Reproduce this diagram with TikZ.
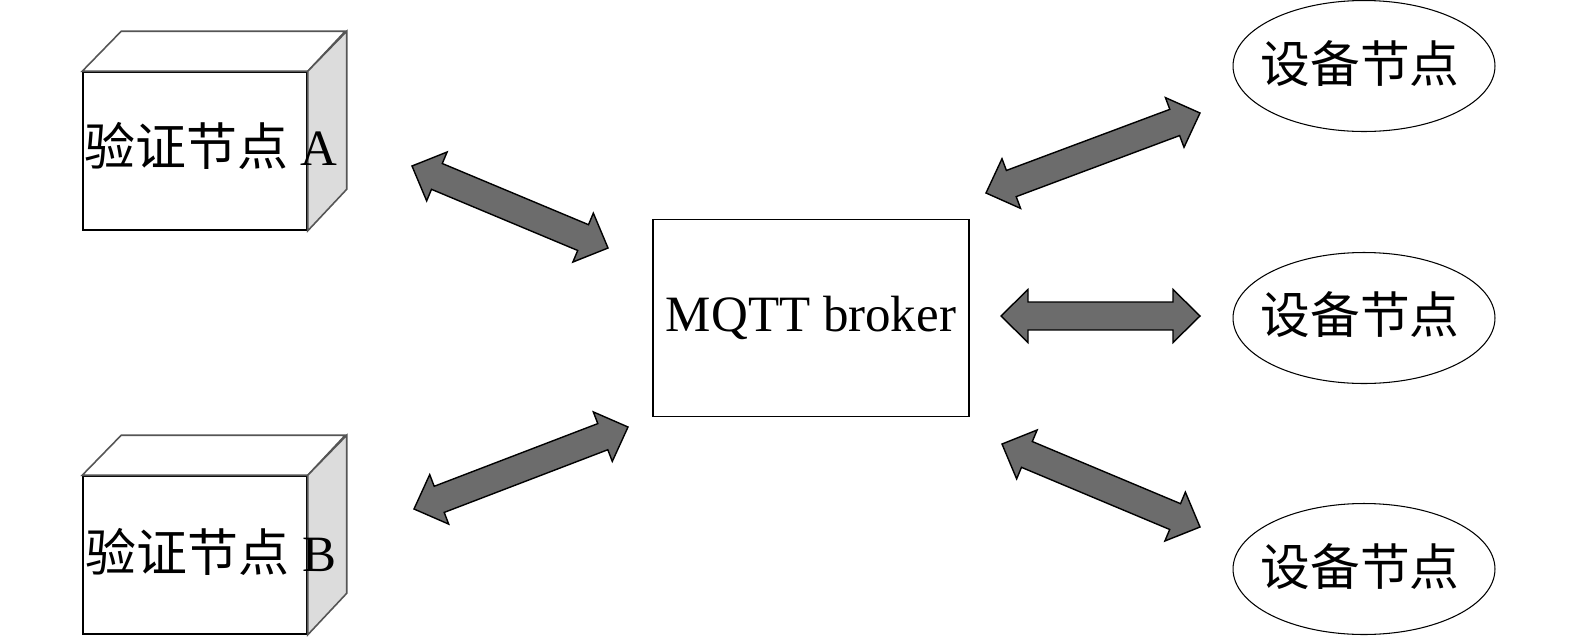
\documentclass[tikz,border=0pt]{standalone}
\usepackage{fontspec}
\setmainfont{Liberation Serif}
\newfontfamily\cjk{Noto Sans CJK SC}
\usetikzlibrary{calc,shapes.geometric}

\definecolor{arrowgray}{HTML}{6C6C6C}
\definecolor{sidegray}{HTML}{DCDCDC}
\definecolor{edgegray}{HTML}{555555}

\tikzset{
  frontface/.style={draw=black,line width=0.9pt,fill=white,minimum width=4.48cm,minimum height=3.16cm,inner sep=0pt},
  cubeedge/.style={draw=edgegray,line width=0.9pt},
  broker/.style={draw=black,line width=0.9pt,minimum width=6.32cm,minimum height=3.94cm,inner sep=0pt,font=\fontsize{29}{34}\selectfont},
  device/.style={ellipse,draw=black,line width=0.6pt,minimum width=5.24cm,minimum height=2.62cm,inner sep=0pt},
  devtext/.style={inner sep=0pt,font=\fontsize{28.3}{34}\selectfont\cjk},
  cubetext/.style={inner sep=0pt,font=\fontsize{29}{35}\selectfont},
  fatarrow/.style={draw=black,line width=0.8pt,fill=arrowgray,line join=miter}
}

\newcommand{\fatarrow}[2]{%
\draw[fatarrow] (#1) -- ($(#1)!0.757cm!44.5:(#2)$) -- ($(#1)!0.608cm!27.4:(#2)$)
  -- ($(#2)!0.608cm!-27.4:(#1)$) -- ($(#2)!0.757cm!-44.5:(#1)$) -- (#2)
  -- ($(#2)!0.757cm!44.5:(#1)$) -- ($(#2)!0.608cm!27.4:(#1)$)
  -- ($(#1)!0.608cm!-27.4:(#2)$) -- ($(#1)!0.757cm!-44.5:(#2)$) -- cycle;}

\begin{document}
\begin{tikzpicture}[x=0.02cm,y=-0.02cm]
\useasboundingbox (0,0) rectangle (1575,636);

\node[frontface] (valA) at (195,151) {};
\draw[cubeedge,fill=white] (valA.north west) -- ++(39,-40) -- ++(224,0) -- (valA.north east) -- cycle;
\draw[cubeedge,fill=sidegray] (valA.north east) -- ++(39,-40) -- ++(0,158) -- (valA.south east) -- cycle;
\node[cubetext] (labA) at (211,146) {{\cjk 验证节点} A};

\node[frontface] (valB) at (195,555) {};
\draw[cubeedge,fill=white] (valB.north west) -- ++(39,-40) -- ++(224,0) -- (valB.north east) -- cycle;
\draw[cubeedge,fill=sidegray] (valB.north east) -- ++(39,-40) -- ++(0,158) -- (valB.south east) -- cycle;
\node[cubetext] (labB) at (211,552) {{\cjk 验证节点} B};

\node[broker] (mqtt) at (811,318) {MQTT broker};

\node[device] (dev1) at (1364,66) {};
\node[device] (dev2) at (1364,318) {};
\node[device] (dev3) at (1364,569) {};
\node[devtext] (devlab1) at (1360,64) {设备节点};
\node[devtext] (devlab2) at (1360,315) {设备节点};
\node[devtext] (devlab3) at (1360,567) {设备节点};

\coordinate (a1s) at (412,166);
\coordinate (a1e) at (608,248);
\coordinate (a2s) at (414,509);
\coordinate (a2e) at (628,427);
\coordinate (a3s) at (986,193);
\coordinate (a3e) at (1200,113);
\coordinate (a4s) at (1001,316);
\coordinate (a4e) at (1200,316);
\coordinate (a5s) at (1002,444);
\coordinate (a5e) at (1200,527);

\fatarrow{a1s}{a1e}
\fatarrow{a2s}{a2e}
\fatarrow{a3s}{a3e}
\fatarrow{a4s}{a4e}
\fatarrow{a5s}{a5e}
\end{tikzpicture}
\end{document}
